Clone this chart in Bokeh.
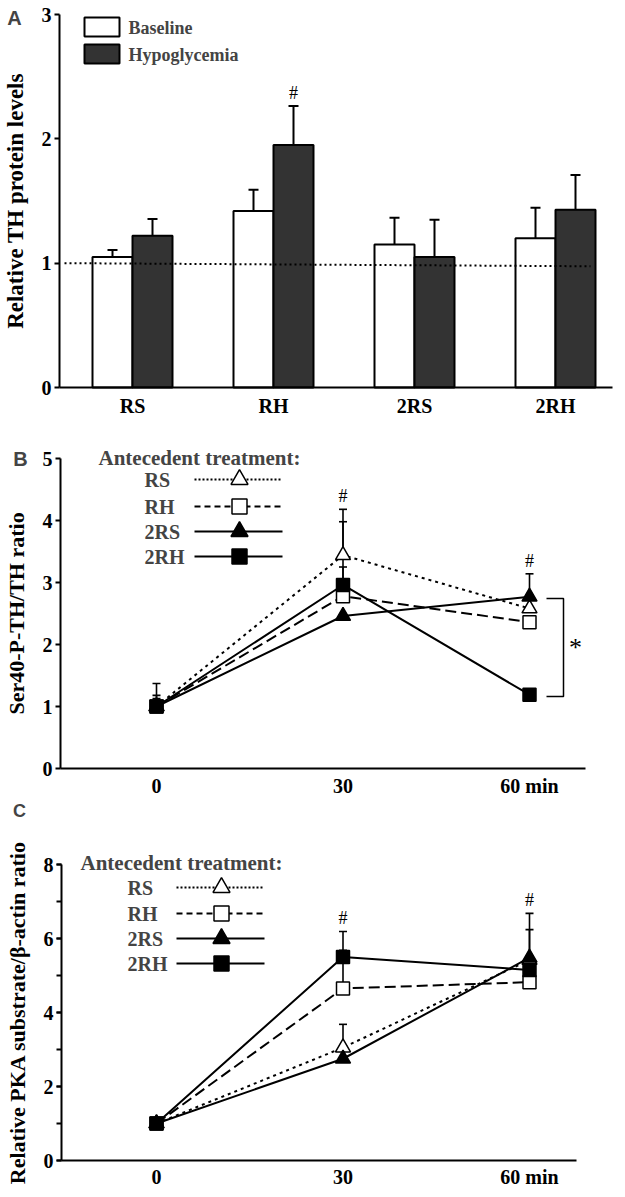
import numpy as np
from bokeh.plotting import figure
from bokeh.layouts import column
from bokeh.models import Range1d, FixedTicker, SingleIntervalTicker, Label
from bokeh.core.properties import value
from bokeh.embed import file_html
from bokeh.resources import INLINE

SERIF = "Liberation Serif"
SANS = "Liberation Sans"

# ---------------- data ----------------
# Panel A
categories = ["RS", "RH", "2RS", "2RH"]
baseline = [1.05, 1.42, 1.15, 1.20]
baseline_sem = [0.055, 0.17, 0.215, 0.245]
hypoglycemia = [1.22, 1.95, 1.05, 1.43]
hypoglycemia_sem = [0.135, 0.315, 0.30, 0.28]
hypoglycemia_sig = ["", "#", "", ""]
ref_line_y = [1.0, 0.975]

# Panels B and C
time_min = [0, 30, 60]
time_labels = ["0", "30", "60 min"]
series_names = ["RS", "RH", "2RS", "2RH"]

b_rs = [1.0, 3.44, 2.58]
b_rh = [1.0, 2.78, 2.36]
b_2rs = [1.0, 2.46, 2.77]
b_2rh = [1.0, 2.96, 1.19]
b_rs_sem = [0.37, 0.74, 0.0]
b_rh_sem = [0.18, 0.47, 0.0]
b_2rs_sem = [0.13, 0.0, 0.37]
b_2rh_sem = [0.10, 1.02, 0.0]
b_sig_time = [30, 60]

c_rs = [1.0, 3.05, 5.42]
c_rh = [1.0, 4.65, 4.82]
c_2rs = [1.0, 2.75, 5.48]
c_2rh = [1.0, 5.50, 5.15]
c_rs_sem = [0.0, 0.63, 0.82]
c_rh_sem = [0.0, 1.03, 0.0]
c_2rs_sem = [0.0, 0.0, 1.20]
c_2rh_sem = [0.0, 0.69, 0.0]
c_sig_time = [30, 60]

STYLE = {
    "RS": dict(dash="3 4", leg_dash="2 2", marker="triangle", fill="white"),
    "RH": dict(dash="11 5", leg_dash="6 4", marker="square", fill="white"),
    "2RS": dict(dash="solid", leg_dash="solid", marker="triangle", fill="black"),
    "2RH": dict(dash="solid", leg_dash="solid", marker="square", fill="black"),
}
MSIZE = {"triangle": 15, "square": 13}

PAGE_L, PAGE_R = 0, 622


def conv(p0, p1, d0, d1):
    return lambda px: d0 + (px - p0) * (d1 - d0) / (p1 - p0)


def make_fig(top, bottom, xc, yc, ax_left, ax_right, ymax):
    """Frame covers the whole canvas; axes are placed at fixed data locations."""
    p = figure(width=PAGE_R - PAGE_L, height=bottom - top,
               x_range=Range1d(xc(PAGE_L), xc(PAGE_R)),
               y_range=Range1d(yc(bottom), yc(top)),
               output_backend="svg", toolbar_location=None,
               min_border=0, min_border_left=0, min_border_right=0,
               min_border_top=0, min_border_bottom=0)
    p.outline_line_color = None
    p.xgrid.visible = False
    p.ygrid.visible = False
    for ax in (p.xaxis, p.yaxis):
        ax.axis_line_width = 2
        ax.axis_line_color = "black"
        ax.major_label_text_font = SERIF
        ax.major_label_text_font_style = "bold"
        ax.major_label_text_font_size = "20px"
        ax.major_label_text_color = "black"
        ax.axis_label_text_font = SERIF
        ax.axis_label_text_font_style = "bold"
        ax.axis_label_text_color = "black"
    p.xaxis.fixed_location = 0
    p.xaxis.bounds = (xc(ax_left), xc(ax_right))
    p.xaxis.major_tick_line_color = None
    p.xaxis.minor_tick_line_color = None
    p.xaxis.major_tick_out = 0
    p.xaxis.major_tick_in = 0
    p.xaxis.minor_tick_out = 0
    p.yaxis.fixed_location = xc(ax_left)
    p.yaxis.bounds = (0, ymax)
    p.yaxis.major_tick_out = 5
    p.yaxis.major_tick_in = 0
    p.yaxis.major_tick_line_width = 2
    p.yaxis.minor_tick_line_color = None
    p.yaxis.major_label_standoff = 3
    p.yaxis.axis_label_standoff = 11
    return p


def panel_letter(p, text, x, y, size="20px"):
    p.add_layout(Label(x=x, y=y, text=text, text_font=SANS, text_font_style="bold",
                       text_font_size=size, text_align="center", text_baseline="middle"))


def legend_label(p, text, x, y, size="20px"):
    p.add_layout(Label(x=x, y=y, text=text, text_font=SERIF, text_font_style="bold",
                       text_font_size=size, text_align="left", text_baseline="middle"))


# ---------------- Panel A ----------------
xa = conv(132, 273, 0, 1)
ya = conv(14, 387, 3, 0)
pA = make_fig(0, 420, xa, ya, 59, 612, 3)
pA.yaxis.axis_label = "Relative TH protein levels"
pA.yaxis.axis_label_text_font_size = "23px"
pA.yaxis.ticker = FixedTicker(ticks=[0, 1, 2, 3])
pos = np.arange(len(categories))
pA.xaxis.ticker = FixedTicker(ticks=list(pos))
pA.xaxis.major_label_overrides = {int(i): c for i, c in zip(pos, categories)}
pA.xaxis.major_label_standoff = 7

bw = 40 / 141
for vals, sem, col, off in ((baseline, baseline_sem, "white", -bw / 2),
                            (hypoglycemia, hypoglycemia_sem, "#333333", bw / 2)):
    xx = pos + off
    v = np.array(vals)
    s = np.array(sem)
    pA.segment(x0=xx, y0=v, x1=xx, y1=v + s, line_color="black", line_width=2)
    pA.scatter(x=xx, y=v + s, marker="dash", size=10, line_color="black", line_width=2)
    pA.vbar(x=xx, top=v, width=bw, bottom=0, fill_color=col, line_color="black", line_width=2)

pA.line(x=[xa(64), xa(590)], y=ref_line_y, line_dash="2 3", line_width=2, line_color="black")
sig_idx = [i for i, t in enumerate(hypoglycemia_sig) if t]
pA.text(x=[pos[i] + bw / 2 for i in sig_idx],
        y=[hypoglycemia[i] + hypoglycemia_sem[i] for i in sig_idx],
        text=[hypoglycemia_sig[i] for i in sig_idx], y_offset=-3,
        text_font=value(SERIF), text_font_size="18px", text_align="center", text_baseline="bottom")

pA.quad(left=[xa(84)], right=[xa(119)], top=[ya(17)], bottom=[ya(36)],
        fill_color="white", line_color="black", line_width=2)
pA.quad(left=[xa(84)], right=[xa(119)], top=[ya(44)], bottom=[ya(63)],
        fill_color="#333333", line_color="black", line_width=2)
legend_label(pA, "Baseline", xa(128), ya(27), "18px")
legend_label(pA, "Hypoglycemia", xa(128), ya(54), "18px")
panel_letter(pA, "A", xa(14), ya(17))


# ---------------- line panels ----------------
def line_panel(top_px, bottom_px, frame, ymax, ticker, ylabel, vals, sems, sig_time,
               leg, letter, letter_px, letter_size, xstandoff):
    left, right, ftop, fbottom, x0px, x60px = frame
    xc = conv(x0px, x60px, 0, 60)
    yc = conv(ftop, fbottom, ymax, 0)
    p = make_fig(top_px, bottom_px, xc, yc, left, right, ymax)
    p.yaxis.ticker = ticker
    p.yaxis.axis_label = ylabel
    p.yaxis.axis_label_text_font_size = "22px"
    p.xaxis.ticker = FixedTicker(ticks=time_min)
    p.xaxis.major_label_overrides = {t: l for t, l in zip(time_min, time_labels)}
    p.xaxis.major_label_standoff = xstandoff

    t = np.array(time_min)
    for name in series_names:
        st = STYLE[name]
        p.line(x=t, y=vals[name], line_color="black", line_width=2, line_dash=st["dash"])
    for name in series_names:
        v = np.array(vals[name])
        s = np.array(sems[name])
        m = s > 0
        p.segment(x0=t[m], y0=v[m], x1=t[m], y1=(v + s)[m], line_color="black", line_width=1.6)
        p.scatter(x=t[m], y=(v + s)[m], marker="dash", size=8, line_color="black", line_width=1.6)
    for name in series_names:
        st = STYLE[name]
        p.scatter(x=t, y=vals[name], marker=st["marker"], size=MSIZE[st["marker"]],
                  fill_color=st["fill"], line_color="black", line_width=1.5)
    tops = []
    for tt in sig_time:
        i = time_min.index(tt)
        tops.append(max(vals[n][i] + sems[n][i] for n in series_names))
    p.text(x=sig_time, y=tops, text=["#"] * len(sig_time), y_offset=-3,
           text_font=value(SERIF), text_font_size="18px", text_align="center",
           text_baseline="bottom")

    title_px, lab_x, l0, l1, mk, rows = leg
    legend_label(p, "Antecedent treatment:", xc(title_px[0]), yc(title_px[1]), "21px")
    for name, ry in zip(series_names, rows):
        st = STYLE[name]
        legend_label(p, name, xc(lab_x), yc(ry))
        p.line(x=[xc(l0), xc(l1)], y=[yc(ry), yc(ry)], line_color="black",
               line_width=1.8, line_dash=st["leg_dash"])
        p.scatter(x=[xc(mk)], y=[yc(ry)], marker=st["marker"], size=MSIZE[st["marker"]] + 2,
                  fill_color=st["fill"], line_color="black", line_width=1.5)
    panel_letter(p, letter, xc(letter_px[0]), yc(letter_px[1]), letter_size)
    return p, xc, yc


pB, xb, yb = line_panel(
    420, 798, (60, 585, 458, 768, 156, 529), 5, FixedTicker(ticks=[0, 1, 2, 3, 4, 5]),
    "Ser40-P-TH/TH ratio",
    {"RS": b_rs, "RH": b_rh, "2RS": b_2rs, "2RH": b_2rh},
    {"RS": b_rs_sem, "RH": b_rh_sem, "2RS": b_2rs_sem, "2RH": b_2rh_sem},
    b_sig_time,
    ((98, 457), 144, 194, 282, 239, (479, 506, 531, 556)),
    "B", (20, 458), "20px", 6)

br_top = b_2rs[2] - 0.03
br_bot = b_2rh[2] - 0.03
pB.line(x=[xb(546), xb(563), xb(563), xb(546)], y=[br_top, br_top, br_bot, br_bot],
        line_color="black", line_width=1.5)
pB.text(x=[xb(575)], y=[(br_top + br_bot) / 2], text=["*"], text_font=value(SERIF),
        text_font_size="26px", text_align="center", text_baseline="middle")

c_ticker = SingleIntervalTicker(interval=2, num_minor_ticks=2)
pC, xcc, ycc = line_panel(
    798, 1195, (61, 576, 864, 1160, 156, 529), 8, c_ticker,
    "Relative PKA substrate/β-actin ratio",
    {"RS": c_rs, "RH": c_rh, "2RS": c_2rs, "2RH": c_2rh},
    {"RS": c_rs_sem, "RH": c_rh_sem, "2RS": c_2rs_sem, "2RH": c_2rh_sem},
    c_sig_time,
    ((80, 862), 127, 176, 264, 221, (887, 913, 938, 963)),
    "C", (19, 810), "18px", 5)
pC.yaxis.minor_tick_line_color = "black"
pC.yaxis.minor_tick_out = 5
pC.yaxis.minor_tick_in = 0
pC.yaxis.minor_tick_line_width = 2

layout = column(pA, pB, pC, spacing=0)
open("out.html", "w").write(file_html(layout, INLINE))
